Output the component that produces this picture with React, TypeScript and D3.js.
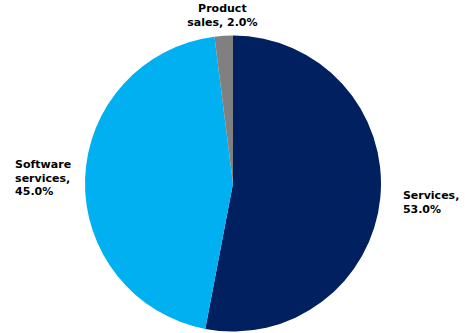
import React, { useMemo } from "react";
import * as d3 from "d3";

const categories = ["Services", "Software services", "Product sales"];
const values = [53.0, 45.0, 2.0];
const labelLines = [
  ["Services,", "53.0%"],
  ["Software", "services,", "45.0%"],
  ["Product", "sales, 2.0%"],
];

const COLORS = ["#002060", "#00B0F0", "#808080"];
const LABEL_RADIUS_EXTRA = [51, 42, 21];

const W = 465;
const H = 333;
const CX = 233;
const CY = 183.5;
const R = 148;
const FONT = "bold 11px 'DejaVu Sans', Verdana, sans-serif";
const LH = 13.5;

function measure(text: string): number {
  const c = document.createElement("canvas");
  const ctx = c.getContext("2d");
  if (!ctx) return text.length * 6.5;
  ctx.font = FONT;
  return ctx.measureText(text).width;
}

export default function App() {
  const arcs = useMemo(
    () =>
      d3
        .pie<number>()
        .sort(null)
        .value((d) => d)(values),
    []
  );
  const arcGen = d3.arc<d3.PieArcDatum<number>>().innerRadius(0).outerRadius(R);

  return (
    <svg
      width={W}
      height={H}
      style={{ position: "absolute", left: 0, top: 0, background: "#fff" }}
    >
      <g transform={`translate(${CX},${CY})`}>
        {arcs.map((a, i) => (
          <path key={categories[i]} d={arcGen(a) || ""} fill={COLORS[i]} />
        ))}
      </g>
      {arcs.map((a, i) => {
        const mid = (a.startAngle + a.endAngle) / 2;
        const rho = R + LABEL_RADIUS_EXTRA[i];
        const xc = CX + rho * Math.sin(mid);
        const yc = CY - rho * Math.cos(mid);
        const lines = labelLines[i];
        const side = Math.abs(Math.sin(mid)) > 0.5;
        const bw = Math.max(...lines.map(measure));
        const x = side ? xc - bw / 2 : xc;
        const y0 = yc - ((lines.length - 1) * LH) / 2 + 4;
        return (
          <text
            key={categories[i]}
            x={x}
            y={y0}
            textAnchor={side ? "start" : "middle"}
            style={{ font: FONT }}
            fill="#000"
          >
            {lines.map((l, j) => (
              <tspan key={j} x={x} y={y0 + j * LH}>
                {l}
              </tspan>
            ))}
          </text>
        );
      })}
    </svg>
  );
}
